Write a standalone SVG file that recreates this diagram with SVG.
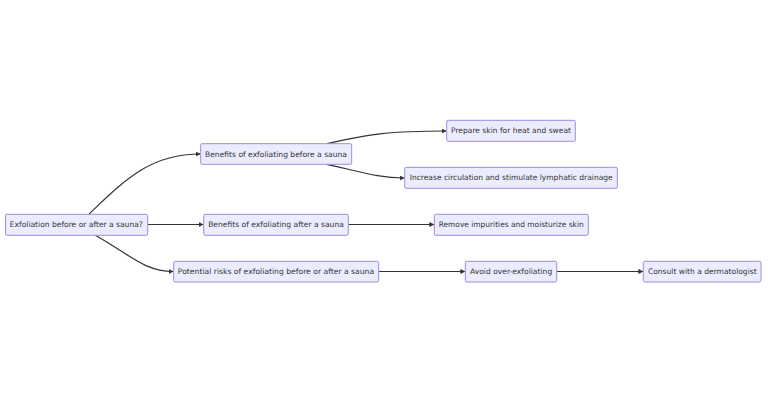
<svg xmlns="http://www.w3.org/2000/svg" width="768" height="400" viewBox="0 0 768 400">
<style>
.node rect{fill:#ECECFF;stroke:#A08BDF;stroke-width:1}
.node text{font-family:"DejaVu Sans","Liberation Sans",sans-serif;font-size:7.6px;fill:#333;text-anchor:middle;dominant-baseline:central}
.edges path{fill:none;stroke:#333;stroke-width:1.2}
</style>
<defs>
<marker id="arr" viewBox="0 0 10 10" refX="9" refY="5" markerWidth="5" markerHeight="5" orient="auto" markerUnits="userSpaceOnUse">
<path d="M0,0 L10,5 L0,10 z" fill="#333"/>
</marker>
</defs>
<rect width="768" height="400" fill="#fff"/>
<g class="edges">
<path d="M89,214 C125,180 150,154 200,154" marker-end="url(#arr)"/>
<path d="M147.7,224.5 L203.2,224.5" marker-end="url(#arr)"/>
<path d="M95,235 C130,255 145,271.5 173.2,271.5" marker-end="url(#arr)"/>
<path d="M327,143.7 C370,134 390,131 446.2,131" marker-end="url(#arr)"/>
<path d="M327,164.3 C365,173 380,178 404.2,178" marker-end="url(#arr)"/>
<path d="M348.3,224.5 L433.8,224.5" marker-end="url(#arr)"/>
<path d="M378.7,271.5 L464.8,271.5" marker-end="url(#arr)"/>
<path d="M556.7,271.5 L642.8,271.5" marker-end="url(#arr)"/>
</g>
<g id="nodeA" class="node"><rect x="5.5" y="214.3" width="142.2" height="21" rx="1.5"/><text x="76.3" y="224.8" textLength="133" lengthAdjust="spacingAndGlyphs">Exfoliation before or after a sauna?</text></g>
<g id="nodeB" class="node"><rect x="200.7" y="143.7" width="151" height="20.6" rx="1.5"/><text x="276" y="154" textLength="142" lengthAdjust="spacingAndGlyphs">Benefits of exfoliating before a sauna</text></g>
<g id="nodeC" class="node"><rect x="203.7" y="214.3" width="144.6" height="21" rx="1.5"/><text x="276" y="224.8" textLength="135.7" lengthAdjust="spacingAndGlyphs">Benefits of exfoliating after a sauna</text></g>
<g id="nodeD" class="node"><rect x="173.7" y="261.3" width="205" height="20.7" rx="1.5"/><text x="276" y="271.7" textLength="196.3" lengthAdjust="spacingAndGlyphs">Potential risks of exfoliating before or after a sauna</text></g>
<g id="nodeE" class="node"><rect x="446.7" y="120.3" width="128.6" height="21" rx="1.5"/><text x="511" y="130.8" textLength="120" lengthAdjust="spacingAndGlyphs">Prepare skin for heat and sweat</text></g>
<g id="nodeF" class="node"><rect x="404.7" y="167.3" width="212.6" height="21" rx="1.5"/><text x="511.2" y="177.8" textLength="203" lengthAdjust="spacingAndGlyphs">Increase circulation and stimulate lymphatic drainage</text></g>
<g id="nodeG" class="node"><rect x="434.3" y="214.3" width="154" height="21" rx="1.5"/><text x="511.2" y="224.8" textLength="145" lengthAdjust="spacingAndGlyphs">Remove impurities and moisturize skin</text></g>
<g id="nodeH" class="node"><rect x="465.3" y="261.3" width="91.4" height="20.7" rx="1.5"/><text x="511.1" y="271.7" textLength="82.3" lengthAdjust="spacingAndGlyphs">Avoid over-exfoliating</text></g>
<g id="nodeI" class="node"><rect x="643.3" y="261.3" width="117.7" height="20.7" rx="1.5"/><text x="702.3" y="271.7" textLength="108.7" lengthAdjust="spacingAndGlyphs">Consult with a dermatologist</text></g>
</svg>
